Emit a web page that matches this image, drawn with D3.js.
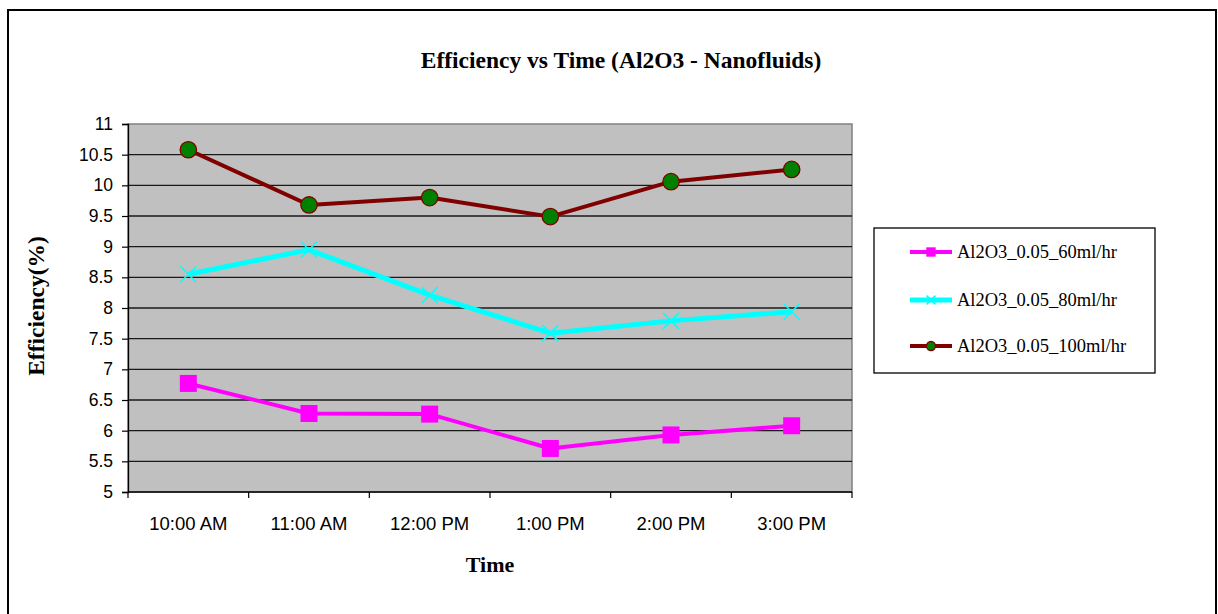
<!DOCTYPE html>
<html>
<head>
<meta charset="utf-8">
<script src="https://cdn.jsdelivr.net/npm/d3@7"></script>
<style>
  html, body { margin: 0; padding: 0; background: #fff; }
  svg { display: block; }
</style>
</head>
<body>
<svg id="chart" width="1218" height="614"></svg>
<script>
// Efficiency readings per hour for three flow rates
const times = ["10:00 AM", "11:00 AM", "12:00 PM", "1:00 PM", "2:00 PM", "3:00 PM"];
const seriesNames = ["Al2O3_0.05_60ml/hr", "Al2O3_0.05_80ml/hr", "Al2O3_0.05_100ml/hr"];
const eff60  = [6.77, 6.28, 6.27, 5.71, 5.93, 6.08];
const eff80  = [8.55, 8.95, 8.21, 7.59, 7.79, 7.94];
const eff100 = [10.58, 9.68, 9.80, 9.49, 10.06, 10.26];
const yTicks = [5, 5.5, 6, 6.5, 7, 7.5, 8, 8.5, 9, 9.5, 10, 10.5, 11];

const series = [
  { name: seriesNames[0], values: eff60,  color: "#ff00ff", width: 4, marker: "square" },
  { name: seriesNames[1], values: eff80,  color: "#00ffff", width: 5, marker: "cross" },
  { name: seriesNames[2], values: eff100, color: "#800000", width: 4, marker: "circle" }
];

const sans = "'Liberation Sans', Arial, sans-serif";
const serif = "'Liberation Serif', 'Times New Roman', serif";

const svg = d3.select("#chart");
const plot = { left: 128, top: 124, right: 852, bottom: 492 };

// outer frame
svg.append("rect")
  .attr("x", 8).attr("y", 10).attr("width", 1208).attr("height", 620)
  .attr("fill", "#fff").attr("stroke", "#000").attr("stroke-width", 2);

const x = d3.scaleBand().domain(times).range([plot.left, plot.right]);
const y = d3.scaleLinear().domain([5, 11]).range([plot.bottom, plot.top]);

// plot background
svg.append("rect")
  .attr("x", plot.left).attr("y", plot.top)
  .attr("width", plot.right - plot.left).attr("height", plot.bottom - plot.top)
  .attr("fill", "#c0c0c0").attr("stroke", "#808080").attr("stroke-width", 1.5);

// horizontal grid
svg.append("g").selectAll("line")
  .data(yTicks.filter(v => v > 5 && v < 11))
  .join("line")
  .attr("x1", plot.left).attr("x2", plot.right)
  .attr("y1", d => y(d)).attr("y2", d => y(d))
  .attr("stroke", "#1a1a1a").attr("stroke-width", 1.3);

// y axis
const yAxis = svg.append("g")
  .attr("transform", `translate(${plot.left},0)`)
  .call(d3.axisLeft(y).tickValues(yTicks).tickSize(6).tickPadding(9).tickFormat(d3.format("")));
yAxis.select(".domain").attr("stroke", "#000").attr("stroke-width", 1.3);
yAxis.selectAll(".tick line").attr("stroke", "#000").attr("stroke-width", 1.2);
yAxis.selectAll(".tick text")
  .attr("font-family", sans)
  .attr("font-size", 17.5).attr("fill", "#000");

// x axis with ticks at category boundaries
const xAxisG = svg.append("g").attr("transform", `translate(0,${plot.bottom})`);
xAxisG.append("line")
  .attr("x1", plot.left).attr("x2", plot.right)
  .attr("y1", 0).attr("y2", 0)
  .attr("stroke", "#000").attr("stroke-width", 1.5);
const boundaries = times.map(t => x(t)).concat([x(times[times.length - 1]) + x.bandwidth()]);
xAxisG.selectAll("line.tick")
  .data(boundaries)
  .join("line")
  .attr("class", "tick")
  .attr("x1", d => d).attr("x2", d => d)
  .attr("y1", 0).attr("y2", 6)
  .attr("stroke", "#000").attr("stroke-width", 1.2);
xAxisG.selectAll("text")
  .data(times)
  .join("text")
  .attr("x", d => x(d) + x.bandwidth() / 2)
  .attr("y", 38)
  .attr("text-anchor", "middle")
  .attr("font-family", sans)
  .attr("font-size", 18.5).attr("fill", "#000")
  .text(d => d);

// series lines and markers
const cx = (d, i) => x(times[i]) + x.bandwidth() / 2;
const line = d3.line().x((d, i) => cx(d, i)).y(d => y(d));

function drawMarker(g, type, color, px, py, scale) {
  if (type === "square") {
    const s = 17 * scale;
    g.append("rect").attr("x", px - s / 2).attr("y", py - s / 2)
      .attr("width", s).attr("height", s).attr("fill", color);
  } else if (type === "circle") {
    g.append("circle").attr("cx", px).attr("cy", py).attr("r", 8.2 * scale)
      .attr("fill", "#008000").attr("stroke", "#800000").attr("stroke-width", 1.3);
  } else {
    const s = 8 * scale;
    g.append("path")
      .attr("d", `M${px - s},${py - s}L${px + s},${py + s}M${px - s},${py + s}L${px + s},${py - s}`)
      .attr("stroke", color).attr("stroke-width", 1.5).attr("fill", "none");
  }
}

series.forEach(s => {
  const g = svg.append("g");
  g.append("path").datum(s.values)
    .attr("d", line)
    .attr("fill", "none").attr("stroke", s.color)
    .attr("stroke-width", s.width).attr("stroke-linejoin", "round");
  s.values.forEach((v, i) => drawMarker(g, s.marker, s.color, cx(v, i), y(v), 1));
});

// title and axis titles
svg.append("text")
  .attr("x", 621).attr("y", 68).attr("text-anchor", "middle")
  .attr("font-family", serif)
  .attr("font-weight", "bold").attr("font-size", 23.5)
  .text("Efficiency vs Time (Al2O3 - Nanofluids)");

svg.append("text")
  .attr("x", 490).attr("y", 572).attr("text-anchor", "middle")
  .attr("font-family", serif)
  .attr("font-weight", "bold").attr("font-size", 22)
  .text("Time");

svg.append("text")
  .attr("transform", "translate(44,306) rotate(-90)")
  .attr("text-anchor", "middle")
  .attr("font-family", serif)
  .attr("font-weight", "bold").attr("font-size", 23.5)
  .text("Efficiency(%)");

// legend
const legend = svg.append("g");
legend.append("rect")
  .attr("x", 874).attr("y", 228).attr("width", 281).attr("height", 145)
  .attr("fill", "#fff").attr("stroke", "#000").attr("stroke-width", 1.3);
const rowsY = [252, 300, 346];
series.forEach((s, i) => {
  const ly = rowsY[i];
  legend.append("line")
    .attr("x1", 910).attr("x2", 952).attr("y1", ly).attr("y2", ly)
    .attr("stroke", s.color).attr("stroke-width", s.width);
  drawMarker(legend, s.marker, s.color, 931, ly, 0.55);
  legend.append("text")
    .attr("x", 957).attr("y", ly + 6)
    .attr("font-family", serif)
    .attr("font-size", 18.5).attr("fill", "#000")
    .text(s.name);
});
</script>
</body>
</html>
